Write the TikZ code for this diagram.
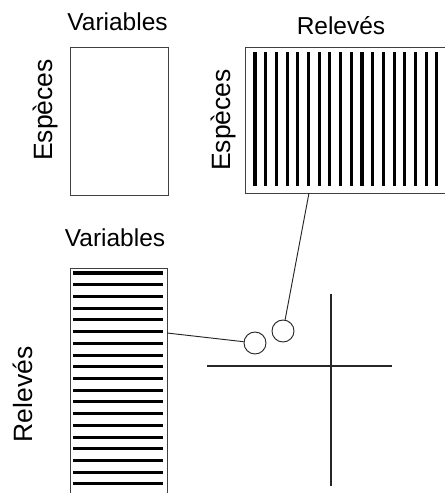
\documentclass[tikz,border=0pt]{standalone}
\usepackage{fontspec}
\setmainfont{Liberation Sans}
\usetikzlibrary{positioning}

\tikzset{
    table/.style={draw=black!75, line width=0.8pt, inner sep=0pt},
    stripe/.style={line width=2.6pt, black},
    lbl/.style={inner sep=0pt, font=\fontsize{20.9}{24}\selectfont},
    vlbl/.style={inner sep=0pt, rotate=90, font=\fontsize{22.6}{26}\selectfont},
    link/.style={black!85, line width=0.8pt},
    ax/.style={black!85, line width=0.9pt},
}

\begin{document}
\begin{tikzpicture}[x=0.03cm, y=-0.03cm]
    \path[use as bounding box, clip] (0,0) rectangle (445,493);

    % Species x variables table
    \node[table, minimum width=2.94cm, minimum height=4.44cm] (sv) at (119,121) {};
    \node[lbl, anchor=base] (svtop) at ([shift={(-1.5,-16)}]sv.north) {Variables};
    \node[vlbl, anchor=base] (svleft) at ([shift={(-17,-11)}]sv.west) {Espèces};

    % Species x samples table
    \node[table, minimum width=6.06cm, minimum height=4.38cm] (sr) at (346,120) {};
    \foreach \i in {0,...,17}
        \draw[stripe] ({255+10.7*\i},52) -- ({255+10.7*\i},186);
    \node[lbl, anchor=base] (srtop) at ([shift={(-5,-12)}]sr.north) {Relevés};
    \node[vlbl, anchor=base] (srleft) at ([shift={(-14,0)}]sr.west) {Espèces};

    % Samples x variables table
    \node[table, minimum width=2.91cm, minimum height=7.26cm] (rv) at (118.5,389) {};
    \foreach \i in {0,...,19}
        \draw[stripe] (73,{273+11.72*\i}) -- (163,{273+11.72*\i});
    \node[lbl, anchor=base] (rvtop) at ([shift={(-3.5,-21)}]rv.north) {Variables};
    \node[vlbl, anchor=base] (rvleft) at ([shift={(-37,127)}]rv.north west) {Relevés};

    % Axes of the ordination plane
    \coordinate (xl) at (207,366);
    \coordinate (xr) at (392,366);
    \coordinate (yt) at (331,294);
    \coordinate (yb) at (331,486);
    \draw[ax] (xl) -- (xr);
    \draw[ax] (yt) -- (yb);

    % Points linked back to the tables
    \node[link, draw, circle, minimum size=0.66cm, inner sep=0pt] (p1) at (255,343) {};
    \node[link, draw, circle, minimum size=0.66cm, inner sep=0pt] (p2) at (283,331) {};
    \coordinate (rvside) at (167,333);
    \coordinate (srfoot) at (309,193);
    \draw[link] (rvside) -- (p1);
    \draw[link] (srfoot) -- (p2);
\end{tikzpicture}
\end{document}
